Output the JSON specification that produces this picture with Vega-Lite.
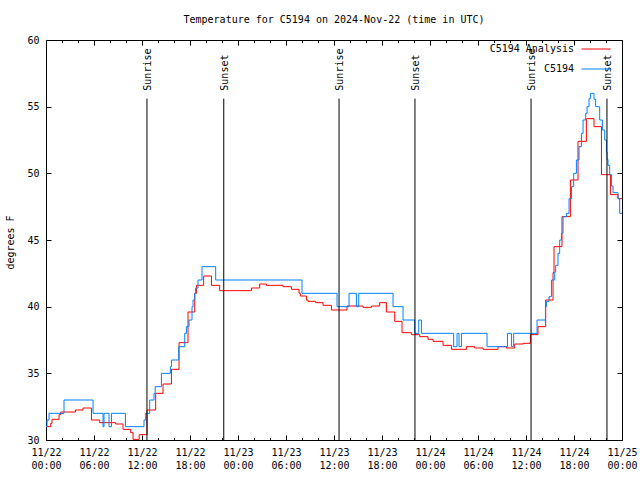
{
  "$schema": "https://vega.github.io/schema/vega-lite/v6.json",
  "width": 576,
  "height": 400,
  "autosize": {"type": "none"},
  "padding": {"left": 46, "top": 40, "right": 18, "bottom": 40},
  "background": "white",
  "config": {
    "font": "DejaVu Sans Mono",
    "view": {"stroke": "black", "strokeWidth": 1},
    "axis": {"labelFont": "DejaVu Sans Mono", "titleFont": "DejaVu Sans Mono", "labelFontSize": 10, "titleFontSize": 10, "titleFontWeight": "normal", "labelColor": "black", "titleColor": "black", "tickColor": "black", "domainColor": "black", "grid": false},
    "legend": {"labelFont": "DejaVu Sans Mono", "labelFontSize": 10, "labelColor": "black"}
  },
  "title": {"text": "Temperature for C5194 on 2024-Nov-22 (time in UTC)", "fontSize": 10, "fontWeight": "normal", "font": "DejaVu Sans Mono", "anchor": "middle", "offset": 9, "color": "black"},
  "datasets": {
    "temps": [
      {"series": "C5194 Analysis", "hours": 0, "temp": 31.0},
      {"series": "C5194 Analysis", "hours": 0.59, "temp": 31.25},
      {"series": "C5194 Analysis", "hours": 0.75, "temp": 31.55},
      {"series": "C5194 Analysis", "hours": 1.63, "temp": 31.9},
      {"series": "C5194 Analysis", "hours": 1.84, "temp": 32.1},
      {"series": "C5194 Analysis", "hours": 3.68, "temp": 32.25},
      {"series": "C5194 Analysis", "hours": 4.63, "temp": 32.4},
      {"series": "C5194 Analysis", "hours": 5.68, "temp": 31.5},
      {"series": "C5194 Analysis", "hours": 6.71, "temp": 31.3},
      {"series": "C5194 Analysis", "hours": 8.71, "temp": 31.2},
      {"series": "C5194 Analysis", "hours": 9.63, "temp": 30.8},
      {"series": "C5194 Analysis", "hours": 10.59, "temp": 30.55},
      {"series": "C5194 Analysis", "hours": 10.88, "temp": 30.05},
      {"series": "C5194 Analysis", "hours": 11.65, "temp": 30.4},
      {"series": "C5194 Analysis", "hours": 12.63, "temp": 32.25},
      {"series": "C5194 Analysis", "hours": 13.71, "temp": 33.5},
      {"series": "C5194 Analysis", "hours": 14.63, "temp": 34.2},
      {"series": "C5194 Analysis", "hours": 15.68, "temp": 35.3},
      {"series": "C5194 Analysis", "hours": 16.63, "temp": 37.3},
      {"series": "C5194 Analysis", "hours": 17.75, "temp": 39.6},
      {"series": "C5194 Analysis", "hours": 18.59, "temp": 41.0},
      {"series": "C5194 Analysis", "hours": 18.8, "temp": 41.6},
      {"series": "C5194 Analysis", "hours": 19.71, "temp": 42.3},
      {"series": "C5194 Analysis", "hours": 20.68, "temp": 41.6},
      {"series": "C5194 Analysis", "hours": 21.71, "temp": 41.2},
      {"series": "C5194 Analysis", "hours": 25.68, "temp": 41.4},
      {"series": "C5194 Analysis", "hours": 26.71, "temp": 41.7},
      {"series": "C5194 Analysis", "hours": 27.55, "temp": 41.6},
      {"series": "C5194 Analysis", "hours": 29.63, "temp": 41.5},
      {"series": "C5194 Analysis", "hours": 30.68, "temp": 41.3},
      {"series": "C5194 Analysis", "hours": 31.63, "temp": 41.0},
      {"series": "C5194 Analysis", "hours": 31.8, "temp": 40.8},
      {"series": "C5194 Analysis", "hours": 32.55, "temp": 40.5},
      {"series": "C5194 Analysis", "hours": 32.75, "temp": 40.4},
      {"series": "C5194 Analysis", "hours": 33.71, "temp": 40.3},
      {"series": "C5194 Analysis", "hours": 34.63, "temp": 40.1},
      {"series": "C5194 Analysis", "hours": 35.68, "temp": 39.75},
      {"series": "C5194 Analysis", "hours": 37.63, "temp": 40.05},
      {"series": "C5194 Analysis", "hours": 39.63, "temp": 39.95},
      {"series": "C5194 Analysis", "hours": 40.68, "temp": 40.05},
      {"series": "C5194 Analysis", "hours": 41.71, "temp": 40.3},
      {"series": "C5194 Analysis", "hours": 42.55, "temp": 39.6},
      {"series": "C5194 Analysis", "hours": 43.59, "temp": 38.9},
      {"series": "C5194 Analysis", "hours": 44.5, "temp": 38.05},
      {"series": "C5194 Analysis", "hours": 45.68, "temp": 37.9},
      {"series": "C5194 Analysis", "hours": 46.71, "temp": 37.75},
      {"series": "C5194 Analysis", "hours": 47.75, "temp": 37.55},
      {"series": "C5194 Analysis", "hours": 48.38, "temp": 37.4},
      {"series": "C5194 Analysis", "hours": 49.63, "temp": 37.1},
      {"series": "C5194 Analysis", "hours": 50.68, "temp": 36.8},
      {"series": "C5194 Analysis", "hours": 52.55, "temp": 37.0},
      {"series": "C5194 Analysis", "hours": 53.59, "temp": 36.9},
      {"series": "C5194 Analysis", "hours": 54.63, "temp": 36.8},
      {"series": "C5194 Analysis", "hours": 56.5, "temp": 37.0},
      {"series": "C5194 Analysis", "hours": 57.55, "temp": 36.9},
      {"series": "C5194 Analysis", "hours": 58.59, "temp": 37.2},
      {"series": "C5194 Analysis", "hours": 59.63, "temp": 37.25},
      {"series": "C5194 Analysis", "hours": 60.55, "temp": 37.9},
      {"series": "C5194 Analysis", "hours": 61.5, "temp": 38.5},
      {"series": "C5194 Analysis", "hours": 62.46, "temp": 40.5},
      {"series": "C5194 Analysis", "hours": 63.38, "temp": 42.55},
      {"series": "C5194 Analysis", "hours": 63.5, "temp": 44.5},
      {"series": "C5194 Analysis", "hours": 64.5, "temp": 46.75},
      {"series": "C5194 Analysis", "hours": 65.55, "temp": 49.5},
      {"series": "C5194 Analysis", "hours": 66.5, "temp": 52.4},
      {"series": "C5194 Analysis", "hours": 67.55, "temp": 54.1},
      {"series": "C5194 Analysis", "hours": 68.5, "temp": 53.5},
      {"series": "C5194 Analysis", "hours": 69.43, "temp": 49.9},
      {"series": "C5194 Analysis", "hours": 70.55, "temp": 48.4},
      {"series": "C5194 Analysis", "hours": 71.5, "temp": 48.1},
      {"series": "C5194 Analysis", "hours": 72, "temp": 48.1},
      {"series": "C5194", "hours": 0, "temp": 31.0},
      {"series": "C5194", "hours": 0.13, "temp": 31.5},
      {"series": "C5194", "hours": 0.38, "temp": 32.0},
      {"series": "C5194", "hours": 2.25, "temp": 33.0},
      {"series": "C5194", "hours": 5.88, "temp": 32.0},
      {"series": "C5194", "hours": 7.13, "temp": 31.0},
      {"series": "C5194", "hours": 7.25, "temp": 32.0},
      {"series": "C5194", "hours": 7.88, "temp": 31.0},
      {"series": "C5194", "hours": 8.18, "temp": 32.0},
      {"series": "C5194", "hours": 9.93, "temp": 31.0},
      {"series": "C5194", "hours": 12.25, "temp": 31.5},
      {"series": "C5194", "hours": 12.46, "temp": 32.0},
      {"series": "C5194", "hours": 12.96, "temp": 33.0},
      {"series": "C5194", "hours": 13.5, "temp": 33.5},
      {"series": "C5194", "hours": 13.65, "temp": 34.0},
      {"series": "C5194", "hours": 14.43, "temp": 35.0},
      {"series": "C5194", "hours": 15.55, "temp": 35.5},
      {"series": "C5194", "hours": 15.68, "temp": 36.0},
      {"series": "C5194", "hours": 16.59, "temp": 37.0},
      {"series": "C5194", "hours": 17.34, "temp": 38.0},
      {"series": "C5194", "hours": 17.55, "temp": 38.5},
      {"series": "C5194", "hours": 17.88, "temp": 39.0},
      {"series": "C5194", "hours": 18.25, "temp": 40.0},
      {"series": "C5194", "hours": 18.38, "temp": 40.5},
      {"series": "C5194", "hours": 18.59, "temp": 41.0},
      {"series": "C5194", "hours": 18.71, "temp": 41.4},
      {"series": "C5194", "hours": 19.0, "temp": 42.0},
      {"series": "C5194", "hours": 19.5, "temp": 43.0},
      {"series": "C5194", "hours": 21.21, "temp": 42.0},
      {"series": "C5194", "hours": 32.0, "temp": 41.0},
      {"series": "C5194", "hours": 36.38, "temp": 40.0},
      {"series": "C5194", "hours": 37.88, "temp": 41.0},
      {"series": "C5194", "hours": 38.8, "temp": 40.0},
      {"series": "C5194", "hours": 39.09, "temp": 41.0},
      {"series": "C5194", "hours": 43.38, "temp": 40.0},
      {"series": "C5194", "hours": 44.63, "temp": 39.0},
      {"series": "C5194", "hours": 46.09, "temp": 38.0},
      {"series": "C5194", "hours": 46.59, "temp": 39.0},
      {"series": "C5194", "hours": 46.93, "temp": 38.0},
      {"series": "C5194", "hours": 50.96, "temp": 37.0},
      {"series": "C5194", "hours": 51.38, "temp": 38.0},
      {"series": "C5194", "hours": 51.63, "temp": 37.0},
      {"series": "C5194", "hours": 51.93, "temp": 38.0},
      {"series": "C5194", "hours": 55.13, "temp": 37.0},
      {"series": "C5194", "hours": 57.68, "temp": 38.0},
      {"series": "C5194", "hours": 58.18, "temp": 37.0},
      {"series": "C5194", "hours": 58.46, "temp": 38.0},
      {"series": "C5194", "hours": 61.38, "temp": 39.0},
      {"series": "C5194", "hours": 62.43, "temp": 40.0},
      {"series": "C5194", "hours": 62.55, "temp": 40.4},
      {"series": "C5194", "hours": 62.88, "temp": 40.75},
      {"series": "C5194", "hours": 63.18, "temp": 42.0},
      {"series": "C5194", "hours": 63.59, "temp": 42.6},
      {"series": "C5194", "hours": 63.71, "temp": 43.1},
      {"series": "C5194", "hours": 64.0, "temp": 44.0},
      {"series": "C5194", "hours": 64.21, "temp": 45.0},
      {"series": "C5194", "hours": 64.43, "temp": 45.5},
      {"series": "C5194", "hours": 64.63, "temp": 46.75},
      {"series": "C5194", "hours": 65.05, "temp": 47.0},
      {"series": "C5194", "hours": 65.38, "temp": 48.1},
      {"series": "C5194", "hours": 65.68, "temp": 49.0},
      {"series": "C5194", "hours": 65.96, "temp": 50.0},
      {"series": "C5194", "hours": 66.3, "temp": 51.0},
      {"series": "C5194", "hours": 66.63, "temp": 52.0},
      {"series": "C5194", "hours": 66.93, "temp": 53.0},
      {"series": "C5194", "hours": 67.13, "temp": 54.0},
      {"series": "C5194", "hours": 67.46, "temp": 54.5},
      {"series": "C5194", "hours": 67.63, "temp": 55.0},
      {"series": "C5194", "hours": 67.88, "temp": 55.6},
      {"series": "C5194", "hours": 68.05, "temp": 56.0},
      {"series": "C5194", "hours": 68.5, "temp": 55.55},
      {"series": "C5194", "hours": 68.71, "temp": 55.0},
      {"series": "C5194", "hours": 69.21, "temp": 54.0},
      {"series": "C5194", "hours": 69.55, "temp": 53.25},
      {"series": "C5194", "hours": 69.84, "temp": 52.5},
      {"series": "C5194", "hours": 70.05, "temp": 51.6},
      {"series": "C5194", "hours": 70.13, "temp": 51.05},
      {"series": "C5194", "hours": 70.25, "temp": 50.6},
      {"series": "C5194", "hours": 70.46, "temp": 49.9},
      {"series": "C5194", "hours": 70.68, "temp": 49.05},
      {"series": "C5194", "hours": 70.88, "temp": 48.55},
      {"series": "C5194", "hours": 71.5, "temp": 48.1},
      {"series": "C5194", "hours": 71.71, "temp": 47.0},
      {"series": "C5194", "hours": 72, "temp": 47.0}
    ],
    "sun": [
      {"event": "Sunrise", "hours": 12.62},
      {"event": "Sunset", "hours": 22.22},
      {"event": "Sunrise", "hours": 36.63},
      {"event": "Sunset", "hours": 46.12},
      {"event": "Sunrise", "hours": 60.63},
      {"event": "Sunset", "hours": 70.12}
    ]
  },
  "layer": [
    {
      "data": {"name": "temps"},
      "transform": [{"filter": "datum.series === 'C5194 Analysis'"}],
      "mark": {"type": "line", "interpolate": "step-after", "strokeWidth": 1, "clip": true},
      "encoding": {
        "x": {"field": "hours", "type": "quantitative",
          "scale": {"domain": [0, 72], "nice": false, "zero": false},
          "axis": {"orient": "bottom", "title": null, "domain": false,
            "values": [0, 2, 4, 6, 8, 10, 12, 14, 16, 18, 20, 22, 24, 26, 28, 30, 32, 34, 36, 38, 40, 42, 44, 46, 48, 50, 52, 54, 56, 58, 60, 62, 64, 66, 68, 70, 72],
            "tickSize": {"condition": {"test": "datum.value % 6 === 0", "value": -5}, "value": -2.5},
            "labelExpr": "datum.value % 6 === 0 ? ['11/' + (22 + floor(datum.value / 24)), (datum.value % 24 < 10 ? '0' : '') + (datum.value % 24) + ':00'] : ''",
            "labelOverlap": false, "labelFlush": false, "labelBound": false, "labelBaseline": "top", "labelLineHeight": 13, "labelPadding": 12}},
        "y": {"field": "temp", "type": "quantitative",
          "scale": {"domain": [30, 60], "nice": false, "zero": false},
          "axis": {"orient": "left", "title": "degrees F", "domain": false, "values": [30, 35, 40, 45, 50, 55, 60], "tickSize": -5, "labelPadding": 12,
            "titleAngle": 270, "titleX": -36, "titleY": 202, "titleAlign": "center", "titleBaseline": "middle"}},
        "color": {"field": "series", "type": "nominal",
          "scale": {"domain": ["C5194 Analysis", "C5194"], "range": ["#ff0000", "#0080ff"]},
          "legend": {"title": null, "orient": "none", "legendX": 535, "legendY": -6, "symbolType": "stroke", "symbolSize": 841, "symbolStrokeWidth": 1, "labelAlign": "right", "labelOffset": -37, "padding": 0, "rowPadding": 0}}
      }
    },
    {
      "data": {"name": "temps"},
      "transform": [{"filter": "datum.series === 'C5194'"}],
      "mark": {"type": "line", "interpolate": "step-after", "strokeWidth": 1, "clip": true},
      "encoding": {
        "x": {"field": "hours", "type": "quantitative", "axis": null},
        "y": {"field": "temp", "type": "quantitative", "axis": null},
        "color": {"field": "series", "type": "nominal"}
      }
    },
    {
      "data": {"name": "sun"},
      "mark": {"type": "rule", "color": "black", "strokeWidth": 1},
      "encoding": {
        "x": {"field": "hours", "type": "quantitative",
          "axis": {"orient": "top", "title": null, "labels": false, "domain": false,
            "values": [0, 2, 4, 6, 8, 10, 12, 14, 16, 18, 20, 22, 24, 26, 28, 30, 32, 34, 36, 38, 40, 42, 44, 46, 48, 50, 52, 54, 56, 58, 60, 62, 64, 66, 68, 70, 72],
            "tickSize": {"condition": {"test": "datum.value % 6 === 0", "value": -5}, "value": -2.5}}},
        "y": {"datum": 30, "type": "quantitative",
          "axis": {"orient": "right", "title": null, "labels": false, "domain": false, "values": [30, 35, 40, 45, 50, 55, 60], "tickSize": -5}},
        "y2": {"datum": 55.6}
      }
    },
    {
      "data": {"name": "sun"},
      "mark": {"type": "text", "angle": 270, "align": "left", "baseline": "middle", "fontSize": 10, "font": "DejaVu Sans Mono", "color": "black", "dy": 1},
      "encoding": {
        "x": {"field": "hours", "type": "quantitative", "axis": null},
        "y": {"datum": 56.2, "type": "quantitative", "axis": null},
        "text": {"field": "event"}
      }
    }
  ],
  "resolve": {"axis": {"x": "independent", "y": "independent"}}
}
